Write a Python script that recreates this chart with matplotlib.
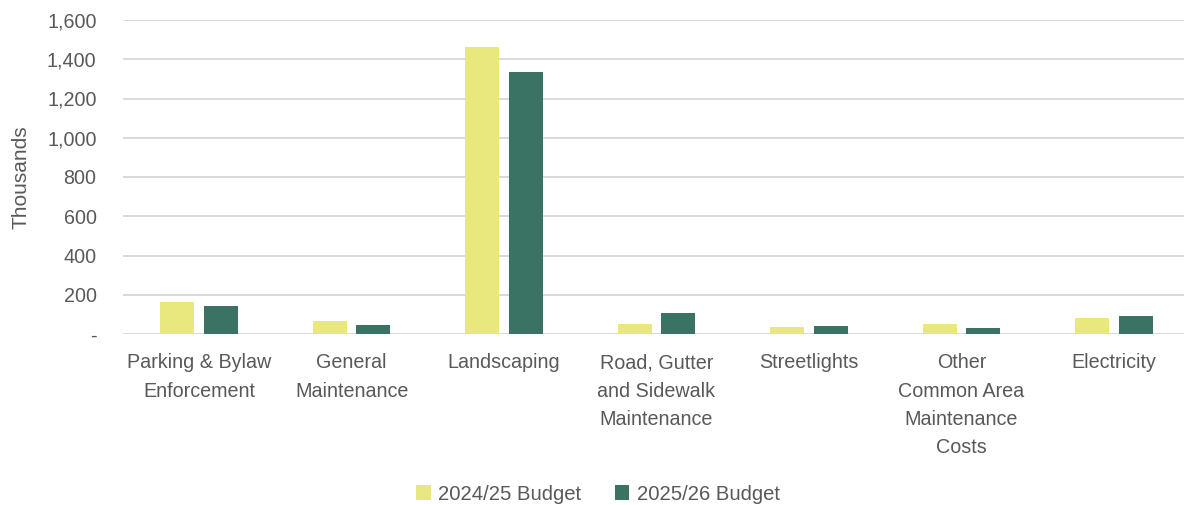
import numpy as np
import matplotlib.pyplot as plt
from matplotlib.ticker import FuncFormatter

categories = [
    "Parking & Bylaw\nEnforcement",
    "General\nMaintenance",
    "Landscaping",
    "Road, Gutter\nand Sidewalk\nMaintenance",
    "Streetlights",
    "Other\nCommon Area\nMaintenance\nCosts",
    "Electricity",
]
budget_2425 = [162, 67, 1461, 51, 36, 51, 79]
budget_2526 = [142, 46, 1337, 109, 41, 31, 91]
series_names = ["2024/25 Budget", "2025/26 Budget"]

yellow = "#E8E87E"
green = "#3A7264"
grey = "#595959"
fs = 14.2

plt.rcParams['font.family'] = ['Liberation Sans', 'DejaVu Sans']

fig = plt.figure(figsize=(11.84, 5.05), dpi=100)
ax = fig.add_axes([123 / 1184, 1 - 334 / 505, 1067 / 1184, 314 / 505])

x = np.arange(len(categories))
w = 0.223
off = 0.143
ax.bar(x - off, budget_2425, w, color=yellow, label=series_names[0], zorder=3)
ax.bar(x + off, budget_2526, w, color=green, label=series_names[1], zorder=3)

ax.set_xlim(-0.5, len(categories) - 0.5)
ax.set_ylim(0, 1600)
ax.set_yticks(np.arange(0, 1601, 200))
ax.yaxis.set_major_formatter(FuncFormatter(lambda v, p: "-" if v == 0 else f"{int(v):,}"))
ax.grid(axis='y', color='#D9D9D9', linewidth=1.4, zorder=0)
for s in ax.spines.values():
    s.set_visible(False)
ax.tick_params(axis='both', length=0, labelsize=fs, labelcolor=grey)
ax.tick_params(axis='y', pad=19)
ax.tick_params(axis='x', pad=14)
ax.set_xticks(x)
ax.set_xticklabels(categories, linespacing=1.62)
ax.set_ylabel("Thousands", fontsize=15, color=grey, labelpad=12)

ax.legend(loc='center', bbox_to_anchor=(598 / 1184, 11 / 505),
          bbox_transform=fig.transFigure, ncol=2, frameon=False,
          fontsize=14.6, labelcolor=grey, handlelength=0.7, handleheight=0.7,
          handletextpad=0.35, columnspacing=1.7)

fig.savefig("out.png", dpi=100)
